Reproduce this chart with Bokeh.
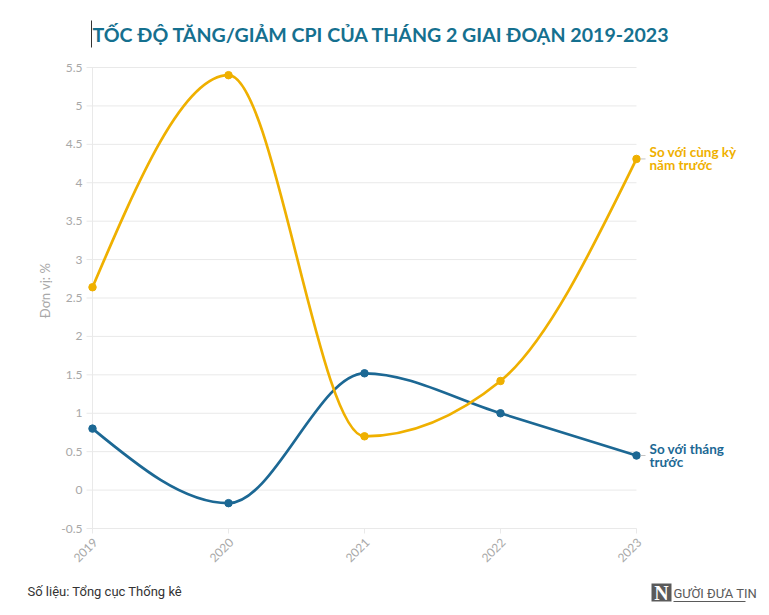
import numpy as np
from bokeh.plotting import figure
from bokeh.models import Range1d
from bokeh.core.properties import value
from bokeh.embed import file_html
from bokeh.resources import INLINE

# ---------------- data ----------------
years = [2019, 2020, 2021, 2022, 2023]
yoy = [2.64, 5.40, 0.70, 1.42, 4.31]      # So với cùng kỳ năm trước
mom = [0.80, -0.17, 1.52, 1.00, 0.45]     # So với tháng trước
y_ticks = [-0.5, 0, 0.5, 1, 1.5, 2, 2.5, 3, 3.5, 4, 4.5, 5, 5.5]
y_tick_labels = ["-0.5", "0", "0.5", "1", "1.5", "2", "2.5", "3", "3.5", "4", "4.5", "5", "5.5"]
x_tick_labels = ["2019", "2020", "2021", "2022", "2023"]

title_text = "TỐC ĐỘ TĂNG/GIẢM CPI CỦA THÁNG 2 GIAI ĐOẠN 2019-2023"
y_axis_title = "Đơn vị: %"
yoy_label = ["So với cùng kỳ", "năm trước"]
mom_label = ["So với tháng", "trước"]
source_text = "Số liệu: Tổng cục Thống kê"
logo_text = "GƯỜI ĐƯA TIN"

YELLOW = "#efb000"
BLUE = "#1c6894"
GRID = "#e9e9e9"
TICK_TXT = "#a8a8a8"
TITLE_COL = "#15708f"

# ---------------- layout (canvas pixels) ----------------
W, H = 765, 611
PX_LEFT, PX_RIGHT = 92, 636      # pixel of first / last year
PX_TOP, PX_BOT = 67, 528         # pixel of top / bottom y tick
sx = (PX_RIGHT - PX_LEFT) / (years[-1] - years[0])
sy = (PX_BOT - PX_TOP) / (y_ticks[-1] - y_ticks[0])


def X(px):
    return years[0] + (px - PX_LEFT) / sx


def Y(py):
    return y_ticks[0] + (PX_BOT - py) / sy


def mono_slopes(xs, ys):
    # d3.curveMonotoneX tangents
    n = len(xs)
    t = [0.0] * n
    for i in range(1, n - 1):
        h0 = xs[i] - xs[i - 1]
        h1 = xs[i + 1] - xs[i]
        s0 = (ys[i] - ys[i - 1]) / h0
        s1 = (ys[i + 1] - ys[i]) / h1
        pp = (s0 * h1 + s1 * h0) / (h0 + h1)
        t[i] = (np.sign(s0) + np.sign(s1)) * min(abs(s0), abs(s1), 0.5 * abs(pp))
    t[0] = (3 * (ys[1] - ys[0]) / (xs[1] - xs[0]) - t[1]) / 2
    t[-1] = (3 * (ys[-1] - ys[-2]) / (xs[-1] - xs[-2]) - t[-2]) / 2
    return t


def monotone_bezier(xs, ys):
    t = mono_slopes(xs, ys)
    out = dict(x0=[], y0=[], x1=[], y1=[], cx0=[], cy0=[], cx1=[], cy1=[])
    for i in range(len(xs) - 1):
        d = (xs[i + 1] - xs[i]) / 3
        out["x0"].append(xs[i]); out["y0"].append(ys[i])
        out["x1"].append(xs[i + 1]); out["y1"].append(ys[i + 1])
        out["cx0"].append(xs[i] + d); out["cy0"].append(ys[i] + d * t[i])
        out["cx1"].append(xs[i + 1] - d); out["cy1"].append(ys[i + 1] - d * t[i + 1])
    return out


p = figure(width=W, height=H, output_backend="svg", toolbar_location=None,
           x_range=Range1d(X(0), X(W)), y_range=Range1d(Y(H), Y(0)),
           x_axis_location=None, y_axis_location=None,
           min_border=0, min_border_left=0, min_border_right=0,
           min_border_top=0, min_border_bottom=0)
p.title.visible = False
p.outline_line_color = None
p.background_fill_color = "white"
p.border_fill_color = "white"
p.grid.visible = False

# grid lines (with the short outer tick at the left)
n_t = len(y_ticks)
p.segment(x0=[X(PX_LEFT - 6)] * n_t, x1=[years[-1]] * n_t, y0=y_ticks, y1=y_ticks,
          line_color=GRID, line_width=1)
# y axis line at the first year
p.segment(x0=[years[0]], x1=[years[0]], y0=[y_ticks[0]], y1=[y_ticks[-1]],
          line_color=GRID, line_width=1)
# x ticks
p.segment(x0=years, x1=years, y0=[y_ticks[0]] * len(years), y1=[Y(PX_BOT + 5)] * len(years),
          line_color=GRID, line_width=1)

# y tick labels
p.text(x=[X(PX_LEFT - 10)] * n_t, y=y_ticks, text=y_tick_labels,
       text_font=value("Lato"), text_font_size="12px", text_color=TICK_TXT,
       text_align="right", text_baseline="middle")
# x tick labels (rotated 45 deg)
p.text(x=[X(PX_LEFT + (yr - years[0]) * sx + 3) for yr in years],
       y=[Y(PX_BOT + 12)] * len(years), text=x_tick_labels,
       angle=np.pi / 4, text_font=value("Lato"), text_font_size="12px",
       text_color=TICK_TXT, text_align="right", text_baseline="middle")
# y axis title
p.text(x=[X(44)], y=[Y(290)], text=[y_axis_title], angle=np.pi / 2,
       text_font=value("Lato"), text_font_size="13px", text_color=TICK_TXT,
       text_align="center", text_baseline="middle")

# series
for ys, col in [(mom, BLUE), (yoy, YELLOW)]:
    b = monotone_bezier(years, ys)
    p.bezier(x0="x0", y0="y0", x1="x1", y1="y1", cx0="cx0", cy0="cy0",
             cx1="cx1", cy1="cy1", source=b, line_color=col, line_width=2.7)
    p.scatter(years, ys, size=7.5, fill_color=col, line_color=col)

# direct labels with short grey connectors
for ys, lines, col in [(yoy, yoy_label, YELLOW), (mom, mom_label, BLUE)]:
    p.segment(x0=[X(PX_RIGHT + 4)], x1=[X(PX_RIGHT + 9)], y0=[ys[-1]], y1=[ys[-1]],
              line_color="#c4c4c4", line_width=1)
    yc = ys[-1]
    p.text(x=[X(PX_RIGHT + 13)] * 2, y=[yc + 6.5 / sy, yc - 6.5 / sy], text=lines,
           text_font=value("Lato"), text_font_style="bold", text_font_size="13.5px",
           text_color=col, text_align="left", text_baseline="middle")

# title
p.text(x=[X(92)], y=[Y(34)], text=[title_text], text_font=value("Lato"),
       text_font_style="bold", text_font_size="19.6px", text_color=TITLE_COL,
       text_align="left", text_baseline="middle")
p.segment(x0=[X(91)], x1=[X(91)], y0=[Y(20)], y1=[Y(47)], line_color="#333333", line_width=1)

# source
p.text(x=[X(27)], y=[Y(591)], text=[source_text], text_font=value("Roboto"),
       text_font_size="13px", text_color="#333333", text_align="left",
       text_baseline="middle")

# logo
p.quad(left=[X(651)], right=[X(671)], top=[Y(583)], bottom=[Y(601)],
       fill_color="#5a5a5a", line_color=None)
p.text(x=[X(661)], y=[Y(592)], text=["N"], text_font=value("Liberation Serif"),
       text_font_style="bold", text_font_size="20px", text_color="white",
       text_align="center", text_baseline="middle")
p.text(x=[X(673)], y=[Y(593)], text=[logo_text], text_font=value("Roboto"),
       text_font_size="13px", text_color="#5a5a5a", text_align="left",
       text_baseline="middle")
p.segment(x0=[X(673)], x1=[X(745)], y0=[Y(601)], y1=[Y(601)], line_color="#5a5a5a",
          line_width=1)

open("out.html", "w").write(file_html(p, INLINE))
